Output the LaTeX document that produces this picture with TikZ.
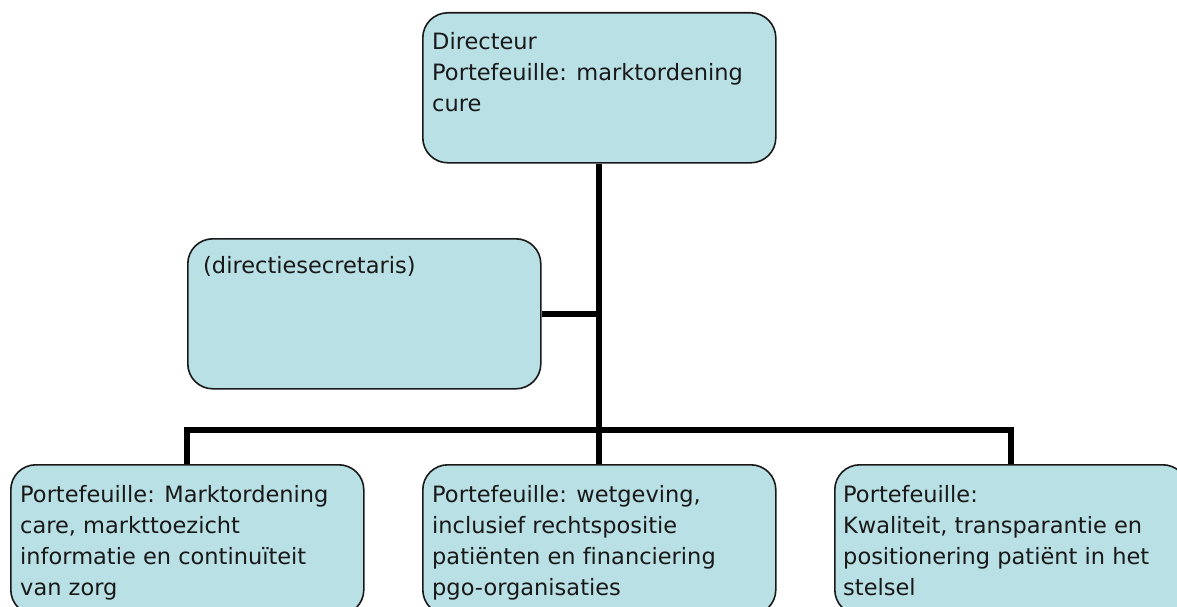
\documentclass[tikz,border=0pt]{standalone}
\usepackage{fontspec}
\setmainfont[Ligatures=NoCommon]{DejaVu Sans}
\usetikzlibrary{calc}
\definecolor{boxfill}{RGB}{185,224,228}
\definecolor{boxline}{RGB}{25,25,25}
\tikzset{
  unitbox/.style={draw=boxline, fill=boxfill, line width=1.6pt, rounded corners=25pt,
    minimum width=353pt, minimum height=150pt, inner sep=0pt, anchor=north west},
  txt/.style={anchor=base west, inner sep=0pt, font=\fontsize{22.5}{31}\selectfont, text=black!90},
  wire/.style={line width=6pt, black}
}
\begin{document}
\begin{tikzpicture}[x=1pt, y=-1pt]
  \useasboundingbox (0,0) rectangle (1177,607);
  \coordinate (bus) at (598.5,430);
  \begin{scope}
    \clip (0,0) rectangle (1177,607);
    % unit boxes
    \node[unitbox] (top)   at (422,12)  {};
    \node[unitbox] (sec)   at (187,238) {};
    \node[unitbox] (left)  at (10,464)  {};
    \node[unitbox] (mid)   at (422,464) {};
    \node[unitbox] (right) at (834,464) {};
  \end{scope}
  % organisation lines
  \draw[wire] (top.south) -- (mid.north);
  \draw[wire] (sec.east) -- (sec.east -| top.south);
  \draw[wire] (left.north) -- (left.north |- bus) -- (right.north |- bus) -- (right.north);
  % box texts
  \node[txt] (ttop) at (432,50)
    {\vtop{\hbox{Directeur}\hbox{Portefeuille: marktordening}\hbox{cure}}};
  \node[txt] (tsec) at (203,273) {(directiesecretaris)};
  \node[txt] (tleft) at (20,502)
    {\vtop{\hbox{Portefeuille: Marktordening}\hbox{care, markttoezicht}\hbox{informatie en continuïteit}\hbox{van zorg}}};
  \node[txt] (tmid) at (432,502)
    {\vtop{\hbox{Portefeuille: wetgeving,}\hbox{inclusief rechtspositie}\hbox{patiënten en financiering}\hbox{pgo-organisaties}}};
  \node[txt] (tright) at (843,502)
    {\vtop{\hbox{Portefeuille:}\hbox{Kwaliteit, transparantie en}\hbox{positionering patiënt in het}\hbox{stelsel}}};
\end{tikzpicture}
\end{document}
